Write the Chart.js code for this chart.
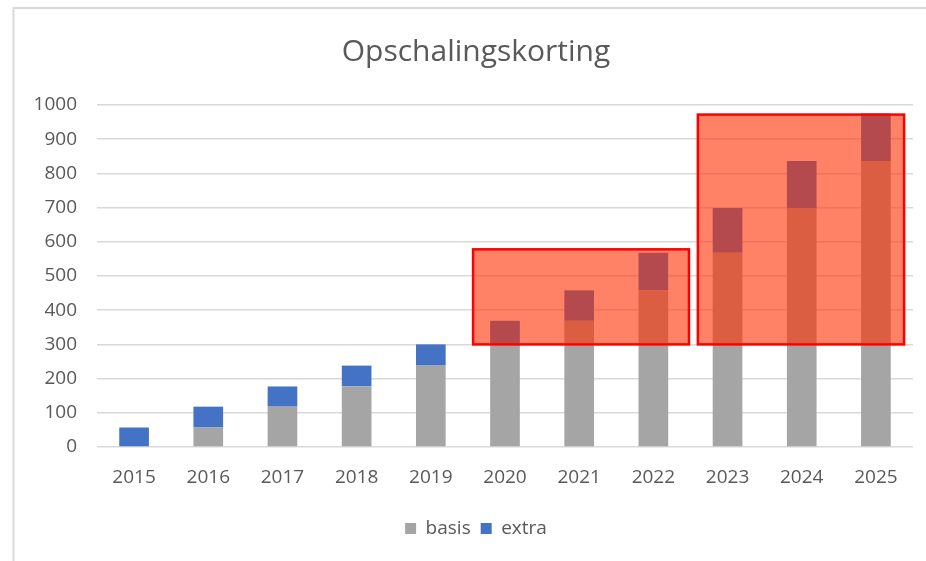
<!DOCTYPE html>
<html>
<head>
<meta charset="utf-8">
<script src="https://cdn.jsdelivr.net/npm/chart.js@4"></script>
<style>
  html, body { margin: 0; padding: 0; background: #fff; }
  #wrap { width: 926px; height: 561px; }
</style>
</head>
<body>
<div id="wrap"><canvas id="myChart" width="926" height="561"></canvas></div>
<script>
const years = ["2015", "2016", "2017", "2018", "2019", "2020", "2021", "2022", "2023", "2024", "2025"];
const basis = [0, 57, 118, 177, 238, 300, 369, 458, 568, 699, 836];
const extra = [57, 61, 59, 61, 62, 69, 89, 110, 131, 137, 139];

// highlighted ranges, in axis units (category index, value)
const boxFrom = [4.57, 7.6];
const boxTo = [7.48, 10.38];
const boxLow = [300, 300];
const boxHigh = [578, 972];

const textColor = "#595959";
const fontFamily = "'Open Sans', sans-serif";

const frame = {
  id: "frame",
  beforeDraw(chart) {
    const ctx = chart.ctx;
    ctx.save();
    ctx.fillStyle = "#ffffff";
    ctx.fillRect(0, 0, chart.width, chart.height);
    ctx.strokeStyle = "#d9d9d9";
    ctx.lineWidth = 2;
    ctx.beginPath();
    ctx.moveTo(13.5, chart.height);
    ctx.lineTo(13.5, 8);
    ctx.lineTo(chart.width, 8);
    ctx.stroke();
    ctx.restore();
  },
};

const highlight = {
  id: "highlight",
  afterDatasetsDraw(chart) {
    const ctx = chart.ctx;
    const x = chart.scales.x;
    const y = chart.scales.y;
    ctx.save();
    boxFrom.forEach((from, i) => {
      const left = x.getPixelForValue(from);
      const right = x.getPixelForValue(boxTo[i]);
      const top = y.getPixelForValue(boxHigh[i]);
      const bottom = y.getPixelForValue(boxLow[i]);
      ctx.fillStyle = "rgba(255, 47, 0, 0.6)";
      ctx.fillRect(left, top, right - left, bottom - top);
      ctx.strokeStyle = "#ff0000";
      ctx.lineWidth = 2.5;
      ctx.strokeRect(left, top, right - left, bottom - top);
    });
    ctx.restore();
  },
};

const ctx = document.getElementById("myChart").getContext("2d");
new Chart(ctx, {
  type: "bar",
  data: {
    labels: years,
    datasets: [
      { label: "basis", data: basis, backgroundColor: "#a5a5a5" },
      { label: "extra", data: extra, backgroundColor: "#4472c4" },
    ],
  },
  options: {
    responsive: false,
    animation: false,
    devicePixelRatio: 1,
    categoryPercentage: 1,
    barPercentage: 0.4,
    layout: { padding: { left: 26, right: 0, top: 0, bottom: 13 } },
    plugins: {
      title: {
        display: true,
        text: "Opschalingskorting",
        color: textColor,
        font: { family: fontFamily, size: 30, weight: "normal" },
        padding: { top: 34, bottom: 35 },
      },
      legend: {
        position: "bottom",
        labels: {
          color: textColor,
          font: { family: fontFamily, size: 19 },
          boxWidth: 11,
          boxHeight: 11,
          padding: 10,
        },
      },
      tooltip: { enabled: false },
    },
    scales: {
      x: {
        stacked: true,
        grid: { display: false },
        border: { display: false },
        ticks: {
          color: textColor,
          font: { family: fontFamily, size: 19 },
          padding: 11,
        },
        afterFit(scale) {
          scale.height = 62;
        },
      },
      y: {
        stacked: true,
        min: 0,
        max: 1000,
        grid: { color: "#d9d9d9", lineWidth: 1.5, drawTicks: false },
        border: { display: false },
        ticks: {
          stepSize: 100,
          color: textColor,
          font: { family: fontFamily, size: 19 },
          padding: 20,
          callback: (value) => String(value),
        },
        afterFit(scale) {
          scale.width = 71;
        },
      },
      // empty right-hand margin axis
      yRight: {
        position: "right",
        min: 0,
        max: 1000,
        grid: { display: false },
        border: { display: false },
        ticks: { display: false },
        afterFit(scale) {
          scale.width = 13;
        },
      },
    },
  },
  plugins: [frame, highlight],
});
</script>
</body>
</html>
